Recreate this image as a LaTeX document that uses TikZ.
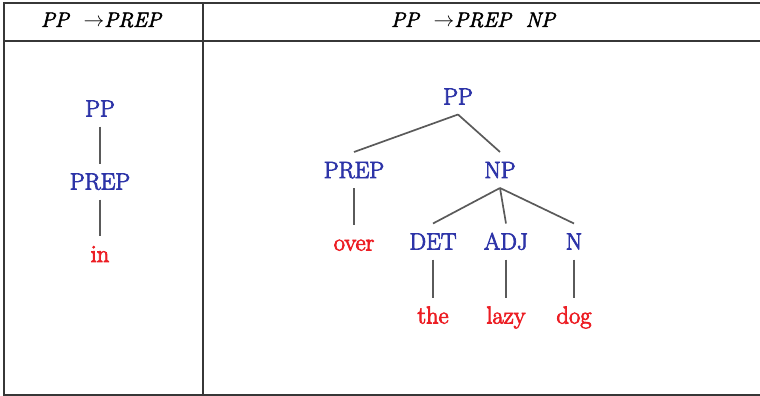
\documentclass[tikz,border=0pt]{standalone}
\usepackage{fontspec}
\newfontfamily\treefont{Latin Modern Roman}[FakeBold=3.2]
\newfontfamily\headfont{Latin Modern Roman}[FakeBold=2.6]
\definecolor{catblue}{RGB}{45,52,168}
\definecolor{wordred}{RGB}{236,30,36}
\definecolor{rulegray}{RGB}{55,55,55}
\definecolor{branchgray}{RGB}{90,90,90}
\tikzset{
  cat/.style={text=catblue, font=\treefont\fontsize{23.5}{23.5}\selectfont, inner sep=0pt,
    text height=16pt, text depth=0pt, outer xsep=0pt, outer ysep=10pt},
  word/.style={text=wordred, font=\treefont\fontsize{24.5}{24.5}\selectfont, inner sep=0pt,
    text height=16pt, text depth=0pt, outer xsep=0pt, outer ysep=10pt},
  branch/.style={draw=branchgray, line width=1.7pt},
  tablerule/.style={draw=rulegray, line width=2.2pt},
  head/.style={font=\headfont\itshape\fontsize{21}{21}\selectfont, text=black, inner sep=0pt}
}
\begin{document}
\begin{tikzpicture}[x=1pt,y=-1pt]
\useasboundingbox (0,0) rectangle (760,396);
% table
\coordinate (tl) at (4,3);
\coordinate (tr) at (762,3);
\coordinate (hl) at (4,41);
\coordinate (hr) at (762,41);
\coordinate (bl) at (4,395);
\coordinate (br) at (762,395);
\coordinate (dt) at (203,3);
\coordinate (db) at (203,395);
\draw[tablerule] (tr) -- (tl) -- (bl) -- (br);
\draw[tablerule] (hl) -- (hr);
\draw[tablerule] (dt) -- (db);
% headers
\node[head] (h1) at (101,20) {PP\ \ {\upshape$\rightarrow$}PREP};
\node[head] (h2) at (473,20) {PP\ \ {\upshape$\rightarrow$}PREP\ \ NP};
% left tree
\node[cat] (lpp) at (100,108.5) {PP};
\node[cat] (lprep) at (100,181.5) {PREP};
\node[word] (lin) at (100,254) {in};
\draw[branch] (lpp) -- (lprep);
\draw[branch] (lprep) -- (lin);
% right tree
\node[cat] (pp) at (458,96.5) {PP};
\node[cat] (prep) at (354,170) {PREP};
\node[cat] (np) at (500,170) {NP};
\node[word] (over) at (354,242.5) {over};
\node[cat] (det) at (433,241.5) {DET};
\node[cat] (adj) at (506,241.5) {ADJ};
\node[cat] (n) at (574,241.5) {N};
\node[word] (the) at (433,315.5) {the};
\node[word] (lazy) at (506,315.5) {lazy};
\node[word] (dog) at (574,315.5) {dog};
\draw[branch] (pp.south) -- (prep.north);
\draw[branch] (pp.south) -- (np.north);
\draw[branch] (prep) -- (over);
\draw[branch] (np.south) -- (det.north);
\draw[branch] (np.south) -- (adj.north);
\draw[branch] (np.south) -- (n.north);
\draw[branch] (det) -- (the);
\draw[branch] (adj) -- (lazy);
\draw[branch] (n) -- (dog);
\end{tikzpicture}
\end{document}
